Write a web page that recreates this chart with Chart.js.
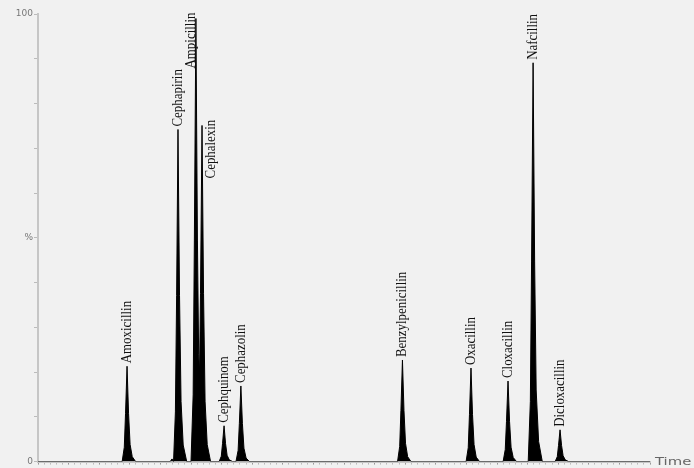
<!DOCTYPE html>
<html>
<head>
<meta charset="utf-8">
<script src="https://cdn.jsdelivr.net/npm/chart.js@4/dist/chart.umd.min.js"></script>
<style>
    html, body { margin: 0; padding: 0; background: #f1f1f1; }
    canvas { display: block; }
</style>
</head>
<body>
<canvas id="chart" width="694" height="468"></canvas>
<script>
// peaks (retention time in min, relative abundance in %)
const peakNames = [
    "Amoxicillin", "Cephapirin", "Ampicillin", "Cephalexin", "Cephquinom", "Cephazolin",
    "Benzylpenicillin", "Oxacillin", "Cloxacillin", "Nafcillin", "Dicloxacillin"
];
const peakTimes = [2.91, 4.575, 5.16, 5.36, 6.08, 6.63, 11.91, 14.15, 15.36, 16.18, 17.06];
const peakHeights = [21.3, 74.2, 99, 75.1, 8, 16.9, 22.7, 20.9, 18, 89.1, 7.1];

// chromatogram trace
const traceTimes = [
    0,
    2.75, 2.82, 2.86, 2.91, 2.96, 3.01, 3.08, 3.19,
    4.32, 4.38, 4.43,
    4.42, 4.49, 4.53, 4.575, 4.625, 4.675, 4.745, 4.86,
    5.00, 5.07, 5.11, 5.16, 5.21, 5.25, 5.28,
    5.31, 5.36, 5.41, 5.46, 5.53, 5.64,
    5.92, 5.99, 6.03, 6.08, 6.13, 6.18, 6.25, 6.36,
    6.47, 6.54, 6.58, 6.63, 6.68, 6.73, 6.80, 6.91,
    11.75, 11.82, 11.86, 11.91, 11.96, 12.01, 12.08, 12.19,
    13.99, 14.06, 14.10, 14.15, 14.20, 14.25, 14.32, 14.43,
    15.20, 15.27, 15.31, 15.36, 15.41, 15.46, 15.53, 15.64,
    16.02, 16.09, 16.13, 16.18, 16.23, 16.28, 16.36, 16.48,
    16.90, 16.97, 17.01, 17.06, 17.11, 17.16, 17.23, 17.34,
    20
];
const traceValues = [
    0,
    0, 3.2, 10.7, 21.3, 10.7, 3.8, 1.1, 0,
    0, 0.6, 0,
    0, 11.1, 37.1, 74.2, 37.1, 13.4, 3.7, 0,
    0, 14.9, 49.5, 99, 49.5, 24, 20,
    37.6, 75.1, 37.6, 13.5, 3.8, 0,
    0, 1.2, 4, 8, 4, 1.4, 0.4, 0,
    0, 2.5, 8.5, 16.9, 8.5, 3, 0.8, 0,
    0, 3.4, 11.4, 22.7, 11.4, 4.1, 1.1, 0,
    0, 3.1, 10.5, 20.9, 10.5, 3.8, 1, 0,
    0, 2.7, 9, 18, 9, 3.2, 0.9, 0,
    0, 13.4, 44.6, 89.1, 44.6, 16, 4.5, 0,
    0, 1.1, 3.6, 7.1, 3.6, 1.3, 0.4, 0,
    0
];

const yTickLabels = { 0: "0", 50: "%", 100: "100" };

// labels that had to be moved off their peak (px)
const labelShift = {
    Ampicillin: [-5, 53],
    Cephalexin: [9, 56]
};

const axisGrey = "#c6c6c6";

const peakLabels = {
    id: "peakLabels",
    afterDatasetsDraw(chart) {
        const { ctx, scales: { x, y } } = chart;
        ctx.save();
        ctx.fillStyle = "#111";
        ctx.font = "15px 'Liberation Serif', serif";
        ctx.textAlign = "left";
        ctx.textBaseline = "middle";
        peakNames.forEach((name, i) => {
            const shift = labelShift[name] || [0, 0];
            const px = x.getPixelForValue(peakTimes[i]) + shift[0];
            const py = y.getPixelForValue(peakHeights[i]) - 3 + shift[1];
            ctx.save();
            ctx.translate(px, py);
            ctx.rotate(-Math.PI / 2);
            ctx.scale(0.86, 1);   // condensed look
            ctx.fillText(name, 0, 0);
            ctx.restore();
        });
        // axis title at the end of the time axis
        ctx.fillStyle = "#666";
        ctx.font = "11px 'DejaVu Sans', sans-serif";
        ctx.textBaseline = "alphabetic";
        ctx.translate(x.right + 5, y.getPixelForValue(0) + 3);
        ctx.scale(1.35, 1);
        ctx.fillText("Time", 0, 0);
        ctx.restore();
    }
};

new Chart(document.getElementById("chart"), {
    type: "line",
    data: {
        datasets: [{
            data: traceTimes.map((t, i) => ({ x: t, y: traceValues[i] })),
            borderColor: "#000",
            backgroundColor: "#000",
            borderWidth: 1,
            pointRadius: 0,
            tension: 0,
            fill: "origin"
        }]
    },
    options: {
        responsive: false,
        animation: false,
        devicePixelRatio: 1,
        layout: { padding: { top: 14, right: 44, left: 0, bottom: 0 } },
        plugins: {
            legend: { display: false },
            tooltip: { enabled: false }
        },
        scales: {
            x: {
                type: "linear",
                min: 0,
                max: 20,
                border: { display: true, color: axisGrey, width: 2 },
                grid: {
                    display: true,
                    drawOnChartArea: false,
                    drawTicks: true,
                    tickLength: 3,
                    color: (c) => (Math.abs(c.tick.value - Math.round(c.tick.value)) < 0.01 ? "#999" : "#bbb")
                },
                ticks: {
                    stepSize: 0.2,
                    autoSkip: false,
                    maxRotation: 0,
                    display: false
                },
                afterFit(scale) { scale.height = 4; }
            },
            y: {
                min: 0,
                max: 100,
                border: { display: true, color: axisGrey, width: 2 },
                grid: {
                    display: true,
                    drawOnChartArea: false,
                    drawTicks: true,
                    tickLength: 4,
                    color: "#bbb"
                },
                ticks: {
                    stepSize: 10,
                    padding: 1,
                    color: "#777",
                    font: { family: "'DejaVu Sans', sans-serif", size: 9 },
                    callback: (v) => yTickLabels[v] ?? ""
                },
                afterFit(scale) { scale.width = 38; }
            }
        }
    },
    plugins: [peakLabels]
});
</script>
</body>
</html>
